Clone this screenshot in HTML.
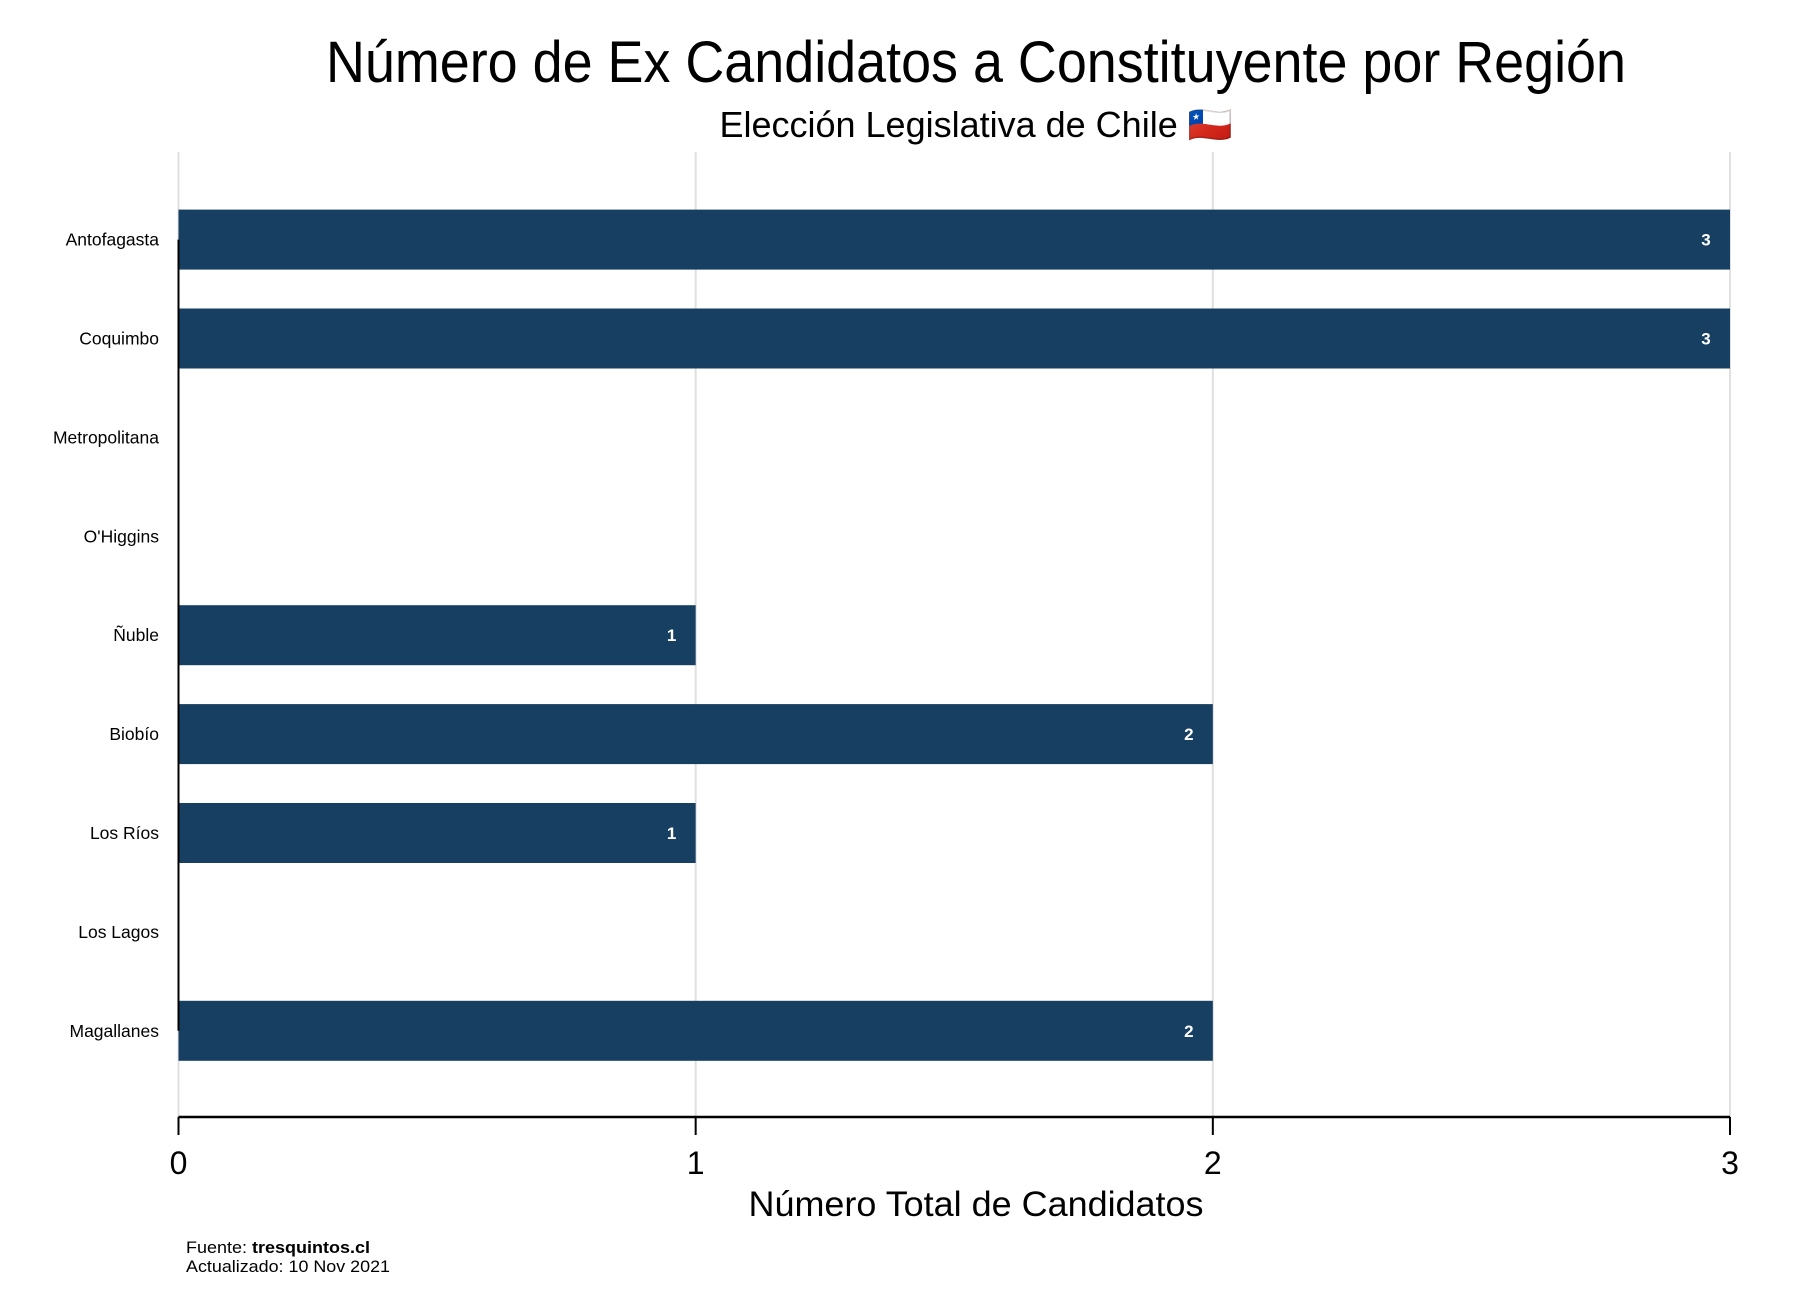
<!DOCTYPE html>
<html><head><meta charset="utf-8"><style>
html,body{margin:0;padding:0;background:#fff;}
svg{display:block;font-family:"Liberation Sans",Arial,sans-serif;}
</style></head><body>
<svg id="chart" width="1806" height="1314" viewBox="0 0 1806 1314">
<text x="976" y="82" font-size="58" text-anchor="middle" textLength="1300" lengthAdjust="spacingAndGlyphs">Número de Ex Candidatos a Constituyente por Región</text>
<text x="976" y="137" font-size="36" text-anchor="middle">Elección Legislativa de Chile 🇨🇱</text>
<g id="grid"></g>
<g id="bars"></g>
<g id="axes"></g>
<text x="976" y="1216" font-size="35" text-anchor="middle" textLength="455" lengthAdjust="spacingAndGlyphs">Número Total de Candidatos</text>
<text x="186" y="1253" font-size="16.5" textLength="184" lengthAdjust="spacingAndGlyphs">Fuente: <tspan font-weight="bold">tresquintos.cl</tspan></text>
<text x="186" y="1272" font-size="16.5" textLength="204" lengthAdjust="spacingAndGlyphs">Actualizado: 10 Nov 2021</text>
</svg>
<script>
const categories = ["Antofagasta","Coquimbo","Metropolitana","O'Higgins","Ñuble","Biobío","Los Ríos","Los Lagos","Magallanes"];
const values = [3,3,0,0,1,2,1,0,2];
const xTicks = [0,1,2,3];
const NS="http://www.w3.org/2000/svg";
const x0=178.5,x1=1730,xmax=3;
function xs(v){return x0+(x1-x0)*v/xmax;}
function ys(i){return 239.6+i*98.9;}
const barH=60;
function mk(tag,attrs,parent){const e=document.createElementNS(NS,tag);for(const k in attrs)e.setAttribute(k,attrs[k]);parent.appendChild(e);return e;}
const grid=document.getElementById('grid'),bars=document.getElementById('bars'),axes=document.getElementById('axes');
xTicks.forEach(t=>{
  const g=mk('line',{x1:xs(t),x2:xs(t),y1:152,y2:1117,stroke:'#e0e0e0','stroke-width':2},grid);
  
  
  const tk=mk('line',{x1:xs(t),x2:xs(t),y1:1117,y2:1135,stroke:'#000','stroke-width':2},axes);
  
  
  const tl=mk('text',{x:xs(t),y:1174,'font-size':32,'text-anchor':'middle'},axes);
  tl.textContent=t;
  
  
});
const ax=mk('line',{x1:x0,x2:x1,y1:1117,y2:1117,stroke:'#000','stroke-width':2.5},axes);


const ay=mk('line',{x1:x0,x2:x0,y1:ys(0),y2:ys(categories.length-1),stroke:'#000','stroke-width':2},axes);


categories.forEach((c,i)=>{
  const l=mk('text',{x:159,y:ys(i)+6,'font-size':17.5,'text-anchor':'end'},axes);
  l.textContent=c;
  
  
  const v=values[i];
  if(v>0){
    const r=mk('rect',{x:x0,y:ys(i)-barH/2,width:xs(v)-x0,height:barH,fill:'#163f61'},bars);
    
    
    const vl=mk('text',{x:xs(v)-24,y:ys(i)+6,'font-size':17,'font-weight':'bold',fill:'#fff','text-anchor':'middle'},bars);
    vl.textContent=v;
    
    
  }
});
</script>
</body></html>
